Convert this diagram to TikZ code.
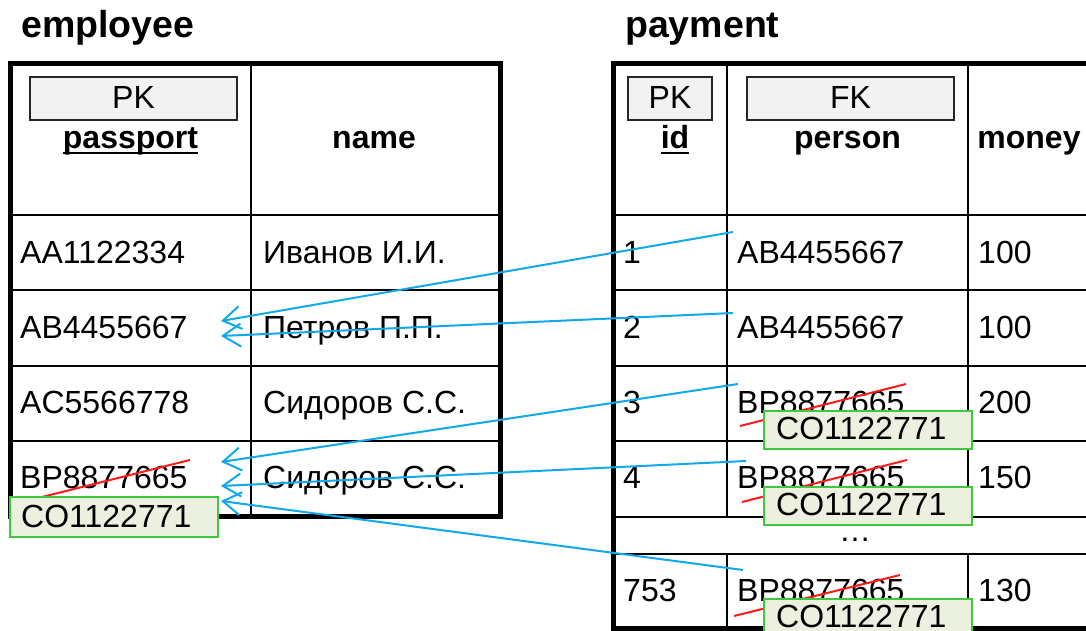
\documentclass[tikz,border=0pt]{standalone}
\usepackage{fontspec}
\setmainfont{Liberation Sans}
\usetikzlibrary{arrows.meta}
\definecolor{linkblue}{HTML}{12A9EC}
\definecolor{keyfill}{HTML}{F2F2F2}
\definecolor{newfill}{HTML}{EBF1DE}
\definecolor{newedge}{HTML}{3DC83D}
\definecolor{strikered}{HTML}{FF1A1A}

\begin{document}
\begin{tikzpicture}[x=1pt,y=-1pt,
  cell/.style={anchor=base west, inner sep=0pt, font=\fontsize{32}{38}\selectfont},
  head/.style={anchor=base, inner sep=0pt, font=\fontsize{32}{38}\selectfont\bfseries},
  keytext/.style={anchor=base, inner sep=0pt, font=\fontsize{32}{38}\selectfont},
  tabtitle/.style={anchor=base west, inner sep=0pt, font=\fontsize{37.5}{43}\selectfont\bfseries},
  keybox/.style={draw=black!85, fill=keyfill, line width=1.5pt, inner sep=0pt, minimum height=43pt},
  newbox/.style={draw=newedge, fill=newfill, line width=2pt, inner sep=0pt, minimum width=208pt},
  grid/.style={line width=2.5pt},
  frame/.style={line width=5pt},
  uline/.style={line width=2.5pt},
  strike/.style={draw=strikered, line width=2pt},
  link/.style={draw=linkblue, line width=2pt, -{Straight Barb[length=18pt,width=23pt,line width=2pt]}}]

\clip (0,0) rectangle (1086,631);
\fill[white] (0,0) rectangle (1086,631);

% ---------- titles ----------
\node[tabtitle] (t1) at (21,38) {employee};
\node[tabtitle] (t2) at (625,38) {payment};

% ---------- employee table ----------
\node[keybox, minimum width=207pt] (epkbox) at (133.5,98.5) {};
\node[keytext] (epk) at (133.5,109) {PK};
\node[head] (epass) at (130.5,149) {passport};
\draw[uline] ([yshift=-4pt]epass.base west) -- ([yshift=-4pt]epass.base east);
\node[head] (ename) at (374,149) {name};

\node[cell] (e1a) at (20,263) {AA1122334};
\node[cell] (e1b) at (263,263) {Иванов И.И.};
\node[cell] (e2a) at (20,338) {AB4455667};
\node[cell] (e2b) at (263,338) {Петров П.П.};
\node[cell] (e3a) at (20,413) {AC5566778};
\node[cell] (e3b) at (263,413) {Сидоров С.С.};
\node[cell] (e4a) at (20,488) {BP8877665};
\node[cell] (e4b) at (263,488) {Сидоров С.С.};

\draw[grid] (251,64) -- (251,516);
\foreach \yy in {215,290,366,441}
  \draw[grid] (10,\yy) -- (500,\yy);
\draw[frame] (10,64) rectangle (500,516);

% ---------- payment table ----------
\node[keybox, minimum width=84pt] (ppkbox) at (670,98.5) {};
\node[keytext] (ppk) at (670,109) {PK};
\node[keybox, minimum width=207pt] (pfkbox) at (850.5,98.5) {};
\node[keytext] (pfk) at (850.5,109) {FK};
\node[head] (pid) at (675,149) {id};
\draw[uline] ([yshift=-4pt]pid.base west) -- ([yshift=-4pt]pid.base east);
\node[head] (pperson) at (847.5,149) {person};
\node[head] (pmoney) at (1029,149) {money};

\node[cell] (p1a) at (623,263) {1};
\node[cell] (p1b) at (737,263) {AB4455667};
\node[cell] (p1c) at (978,263) {100};
\node[cell] (p2a) at (623,338) {2};
\node[cell] (p2b) at (737,338) {AB4455667};
\node[cell] (p2c) at (978,338) {100};
\node[cell] (p3a) at (623,413) {3};
\node[cell] (p3b) at (737,413) {BP8877665};
\node[cell] (p3c) at (978,413) {200};
\node[cell] (p4a) at (623,488) {4};
\node[cell] (p4b) at (737,488) {BP8877665};
\node[cell] (p4c) at (978,488) {150};
\node[keytext] (pdots) at (855,541) {…};
\node[cell] (p5a) at (623,601) {753};
\node[cell] (p5b) at (737,601) {BP8877665};
\node[cell] (p5c) at (978,601) {130};

\draw[grid] (727,64) -- (727,517);
\draw[grid] (968,64) -- (968,517);
\draw[grid] (727,554) -- (727,628);
\draw[grid] (968,554) -- (968,628);
\foreach \yy in {215,290,366,441,517,554}
  \draw[grid] (613,\yy) -- (1100,\yy);
\draw[frame] (1100,64) -- (613,64) -- (613,628) -- (1100,628);

% ---------- replaced passport numbers ----------
\draw[strike] (34,499) -- (190,460);
\node[newbox, minimum height=40pt] (enew) at (113.5,517) {};
\node[cell] (enewt) at (21,527) {CO1122771};

\draw[strike] (740,426) -- (906,384);
\node[newbox, minimum height=38pt] (pnew3) at (868,430) {};
\node[cell] (pnew3t) at (776,439) {CO1122771};

\draw[strike] (742,502) -- (907,460);
\node[newbox, minimum height=38pt] (pnew4) at (868,506) {};
\node[cell] (pnew4t) at (776,515) {CO1122771};

\draw[strike] (734,616) -- (900,575);
\node[newbox, minimum height=38pt] (pnew5) at (868,618) {};
\node[cell] (pnew5t) at (776,627) {CO1122771};

% ---------- foreign key references ----------
\coordinate (s1) at (733,232);
\coordinate (s2) at (733,313);
\coordinate (s3) at (738,384);
\coordinate (s4) at (746,461);
\coordinate (s5) at (743,570);
\coordinate (d1) at (221,321);
\coordinate (d2) at (221,336);
\coordinate (d3) at (221,462);
\coordinate (d4) at (221,486);
\coordinate (d5) at (221,501);
\foreach \k in {1,...,5}
  \draw[link] (s\k) -- (d\k);
\end{tikzpicture}
\end{document}
